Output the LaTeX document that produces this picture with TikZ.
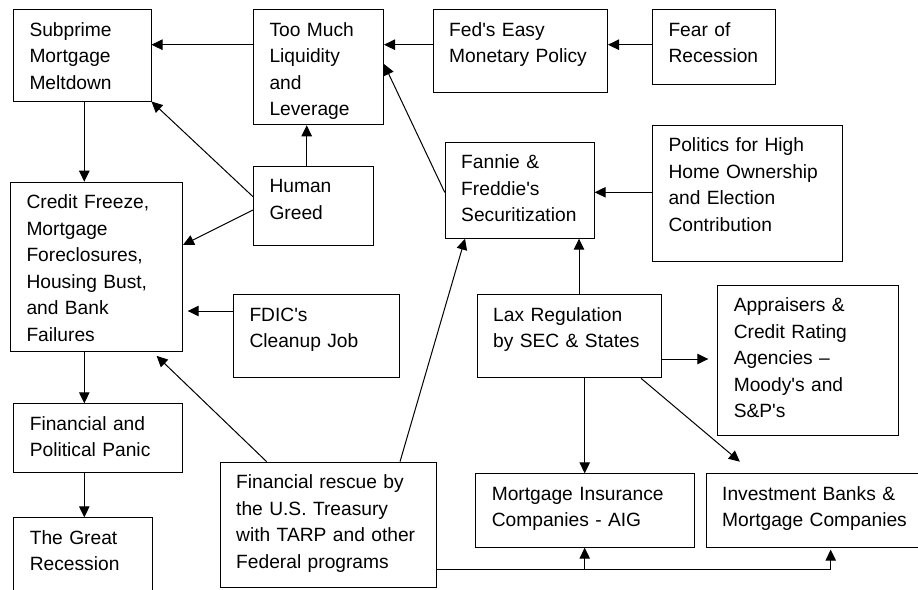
\documentclass[tikz,border=0pt]{standalone}
\usepackage{fontspec}
\setmainfont{Liberation Sans}[Ligatures=TeXOff]
\usetikzlibrary{arrows.meta}

\tikzset{
    box/.style 2 args={draw, line width=1pt, anchor=north west, align=left, inner sep=0pt,
        text width=#1, text height=26.5pt, text depth=#2,
        execute at begin node={\leftskip=16pt}},
    arr/.style={line width=1pt, -{Triangle[length=11pt,width=10.5pt]}}
}

\begin{document}
\begin{tikzpicture}[x=1pt, y=-1pt, font=\fontsize{19.2}{26.5}\selectfont]
    \useasboundingbox (0,0) rectangle (918,589);

    % boxes, placed by their top left corner
    \node[box={137.5pt}{65pt}] (subprime) at (13,9) {Subprime\\Mortgage\\Meltdown};
    \node[box={130pt}{88.8pt}] (liquidity) at (253,9) {Too Much\\Liquidity\\and\\Leverage};
    \node[box={174.3pt}{56.2pt}] (fed) at (432.7,9) {Fed's Easy\\Monetary Policy};
    \node[box={122.7pt}{48.5pt}] (fear) at (652,9) {Fear of\\Recession};
    \node[box={119.7pt}{52.8pt}] (greed) at (253,165.7) {Human\\Greed};
    \node[box={172pt}{142.5pt}] (credit) at (10,181.7) {Credit Freeze,\\Mortgage\\Foreclosures,\\Housing Bust,\\and Bank\\Failures};
    \node[box={149pt}{69.5pt}] (fannie) at (444.7,141.7) {Fannie \&\\Freddie's\\Securitization};
    \node[box={189.7pt}{109.8pt}] (politics) at (652,124.7) {Politics for High\\Home Ownership\\and Election\\Contribution};
    \node[box={166pt}{56.2pt}] (fdic) at (233,294.3) {FDIC's\\Cleanup Job};
    \node[box={184pt}{56.5pt}] (lax) at (476.7,294.3) {Lax Regulation\\by SEC \& States};
    \node[box={180.4pt}{123.8pt}] (appraisers) at (717.3,284.7) {Appraisers \&\\Credit Rating\\Agencies –\\Moody's and\\S\&P's};
    \node[box={168.4pt}{42.2pt}] (panic) at (13.3,403.3) {Financial and\\Political Panic};
    \node[box={139pt}{73.5pt}] (recession) at (13.3,517.3) {The Great\\Recession};
    \node[box={216.6pt}{99.1pt}] (rescue) at (219.7,461.7) {Financial rescue by\\the U.S. Treasury\\with TARP and other\\Federal programs};
    \node[box={218.7pt}{46.9pt}] (insurance) at (475.3,473.3) {Mortgage Insurance\\Companies - AIG};
    \node[box={230pt}{46.9pt}] (banks) at (705.7,473.3) {Investment Banks \&\\Mortgage Companies};

    % top row
    \draw[arr] (fear.west |- 0,44.7) -- (fed.east |- 0,44.7);
    \draw[arr] (fed.west |- 0,44.7) -- (liquidity.east |- 0,44.7);
    \draw[arr] (liquidity.west |- 0,44.7) -- (subprime.east |- 0,44.7);

    \draw[arr] (greed.north -| 306.7,0) -- (liquidity.south -| 306.7,0);
    \draw[arr] (greed.west |- 0,196.7) -- (subprime.south east);
    \draw[arr] (greed.west |- 0,210) -- (credit.east |- 0,245);

    \draw[arr] (fannie.west |- 0,192.3) -- (liquidity.east |- 0,64);
    \draw[arr] (politics.west |- 0,192.3) -- (fannie.east |- 0,192.3);
    \draw[arr] (lax.north -| 579,0) -- (fannie.south -| 579,0);
    \draw[arr] (rescue.north -| 400,0) -- (fannie.south -| 465,0);

    % left column
    \draw[arr] (subprime.south -| 84.3,0) -- (credit.north -| 84.3,0);
    \draw[arr] (credit.south -| 84.3,0) -- (panic.north -| 84.3,0);
    \draw[arr] (panic.south -| 84.3,0) -- (recession.north -| 84.3,0);
    \draw[arr, shorten >=4.7pt] (fdic.west |- 0,311) -- (credit.east |- 0,311);
    \draw[arr, shorten >=6pt] (rescue.north -| 266.7,0) -- (credit.south -| 152.3,0);

    % regulation
    \draw[arr, shorten >=9pt] (lax.east |- 0,359) -- (appraisers.west |- 0,359);
    \draw[arr] (lax.south -| 584.7,0) -- (insurance.north -| 584.7,0);
    \draw[arr, shorten >=18pt] (lax.south -| 641,0) -- (banks.north -| 753.6,0);

    % rescue line at the bottom
    \coordinate (bus) at (584.7,569.3);
    \draw[arr, shorten >=2pt] (rescue.east |- bus) -| (banks.south -| 830.7,0);
    \draw[arr] (bus) -- (insurance.south -| bus);
\end{tikzpicture}
\end{document}
